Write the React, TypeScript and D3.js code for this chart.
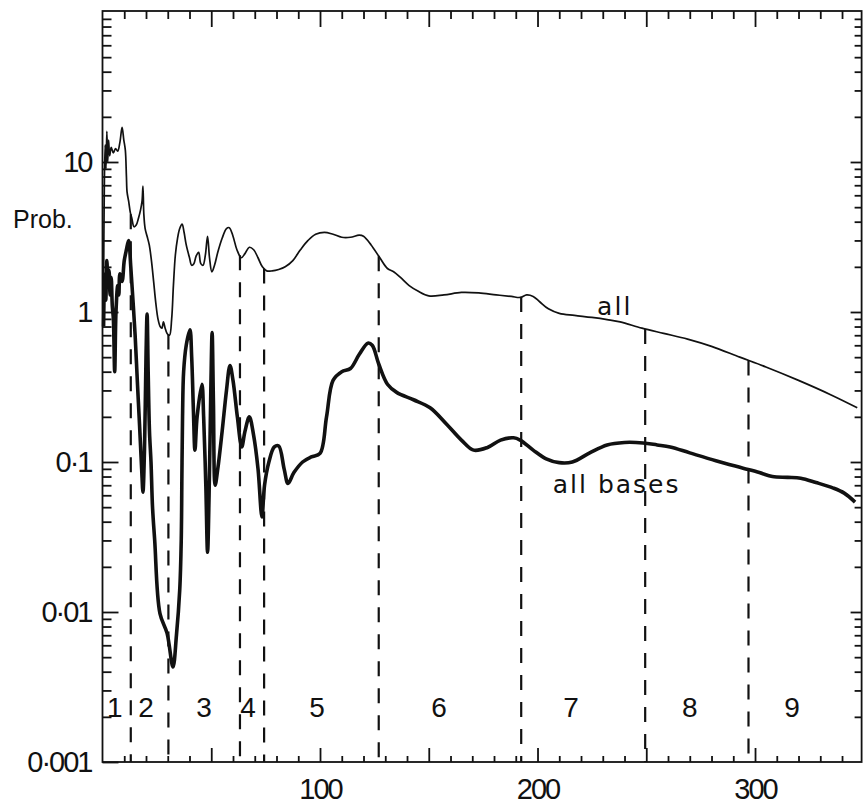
import React, { useEffect, useRef } from "react";
import * as d3 from "d3";

// "all" curve (thin)
const allPos = [
  0.5, 0.8, 1.2, 1.6, 2, 2.4, 2.8, 3.3, 4, 5, 6, 7, 8, 9, 9.8, 10.5, 11, 11.3, 12, 12.8,
  13.5, 14.5, 15.5, 16.5, 17.5, 18.2, 18.6, 19, 19.6, 20.5, 21.5, 22.5, 23.5, 24.5, 25.5,
  26.5, 27.3, 28, 28.8, 29.7, 30.8, 31.8, 32.6, 33.5, 34.5, 35.5, 36.6, 37.5, 38.5, 40, 41,
  42, 43, 44.2, 45.2, 46.2, 47.3, 48.3, 49.2, 50.3, 51.5, 53, 55, 57, 58.3, 60, 61.8, 63.8,
  65.5, 67.5, 69.5, 71.5, 73.5, 75.5, 78, 81, 84, 87.5, 91, 94.5, 98, 102, 106, 110, 114,
  118, 120, 123.5, 127.5, 131, 134, 137, 141, 145, 150, 157, 165, 173, 181, 188, 192, 195,
  198, 201, 205, 210, 217, 225, 232, 238, 248, 258, 269, 280, 293, 305, 320, 335, 347,
];
const allProb = [
  1.5, 6, 13, 9, 16, 10, 14, 11, 12.5, 11.5, 12.3, 11.8, 13.5, 17, 14, 12, 8, 6.3, 5.5, 4.6,
  4.2, 3.7, 3.8, 4.2, 4.8, 5.5, 6.9, 4.5, 3.6, 3.2, 2.8, 2.2, 1.6, 1.15, 0.9,
  0.8, 0.78, 0.86, 0.78, 0.72, 0.7, 0.9, 1.5, 2.4, 3.1, 3.6, 3.85, 3.4, 2.8, 2.3, 2.05,
  2.1, 2.35, 2.5, 2.1, 2.05, 2.4, 3.2, 2.3, 1.85, 2.05, 2.5, 3.1, 3.6, 3.65, 3.2, 2.6, 2.3,
  2.45, 2.7, 2.6, 2.3, 2.0, 1.88, 1.88, 1.92, 2.0, 2.2, 2.6, 3.0, 3.3, 3.4, 3.3, 3.15, 3.15,
  3.25, 3.2, 2.8, 2.3, 1.95, 1.85, 1.7, 1.5, 1.38, 1.28, 1.3, 1.35, 1.34, 1.3, 1.27, 1.25, 1.3,
  1.27, 1.17, 1.05, 0.98, 0.95, 0.92, 0.89, 0.86, 0.78, 0.72, 0.66, 0.59, 0.5, 0.43, 0.35, 0.28, 0.23,
];

// "all bases" curve (thick)
const basesPos = [
  0.5, 1, 1.5, 2, 2.5, 3, 3.5, 4, 4.5, 5, 5.6, 6.2, 7, 7.5, 8, 9, 10, 11, 12, 13, 14, 15, 16,
  17, 18, 18.6, 19.3, 20, 20.5, 21, 21.6, 22.3, 23, 24, 26.4, 29.7, 32.4, 34, 35.5, 36.2, 36.5,
  36.8, 37.3, 38.5, 40.2, 41, 41.8, 42.5, 43.5, 45.7, 46.5, 47.5, 48.3, 49, 49.8, 50.4, 51,
  51.8, 53, 55, 57, 58.6, 60, 62, 64, 65.5, 67.5, 69.5, 71.5, 73.3, 74.5, 76.5, 79, 81, 83.5,
  85.3, 88, 92, 96, 100, 103, 106, 110, 114, 118, 122, 124, 127, 131, 135.4, 143, 150.6, 158,
  165, 170.6, 177, 183, 189, 192, 198, 204, 210, 216, 224, 232, 240, 248.5, 255, 261, 270, 282,
  294.5, 302, 308, 315, 321, 328, 336, 341, 346,
];
const basesProb = [
  0.8, 1.8, 1.2, 2.2, 1.5, 1.9, 1.3, 1.7, 1.1, 0.9, 0.4, 1.0, 1.5, 1.3, 1.8, 1.6, 2.2, 2.6, 3.0, 2.0, 1.2, 0.7, 0.35,
  0.18, 0.09, 0.063, 0.12, 0.5, 0.97, 0.4, 0.16, 0.1, 0.05, 0.03, 0.0098, 0.0072, 0.0043, 0.007, 0.014, 0.03, 0.08,
  0.2, 0.4, 0.6, 0.76, 0.5, 0.22, 0.12, 0.2, 0.33, 0.2, 0.07, 0.025, 0.06, 0.3, 0.73, 0.25,
  0.07, 0.09, 0.16, 0.3, 0.44, 0.35, 0.2, 0.126, 0.16, 0.2, 0.15, 0.09, 0.043, 0.07, 0.1, 0.126, 0.128, 0.09,
  0.072, 0.085, 0.1, 0.108, 0.114, 0.2, 0.35, 0.4, 0.42, 0.52, 0.62, 0.6, 0.45, 0.33, 0.29, 0.26, 0.23, 0.18,
  0.14, 0.12, 0.125, 0.14, 0.145, 0.14, 0.12, 0.105, 0.099, 0.1, 0.115, 0.13, 0.135, 0.134, 0.13, 0.126, 0.115, 0.102,
  0.091, 0.085, 0.08, 0.079, 0.078, 0.073, 0.067, 0.062, 0.054,
];

// region boundaries (dashed) and their numbers
const boundaries = [13, 30.3, 63.2, 74.3, 127, 192.5, 249.5, 297];
const regionNames = ["1", "2", "3", "4", "5", "6", "7", "8", "9"];
const regionNamePos = [5.7, 20, 46.7, 66.9, 98.6, 154.7, 215.4, 270, 317];

const xLabelTicks = [100, 200, 300];
const yLabelTicks = [0.001, 0.01, 0.1, 1, 10];
const yLabelText = ["0·001", "0·01", "0·1", "1", "10"];

const seriesNames = ["all", "all bases"];
const seriesNamePos = [227.4, 207];
const seriesNameProb = [0.955, 0.062];

const W = 865, H = 804;
const left = 102.5, right = 861.6, top = 11, bottom = 762;
const FONT = "'Liberation Sans', Arial, sans-serif";

const App = () => {
  const axesRef = useRef<SVGGElement>(null);

  const x = d3.scaleLinear().domain([0, 349]).range([left, right]);
  const y = d3.scaleLog().domain([0.001, 100]).range([bottom, 12]);

  const line = d3.line<[number, number]>()
    .x(d => x(d[0]))
    .y(d => y(d[1]))
    .curve(d3.curveCatmullRom.alpha(0.5));

  const allPts = allPos.map((p, i) => [p, allProb[i]] as [number, number]);
  const basesPts = basesPos.map((p, i) => [p, basesProb[i]] as [number, number]);

  // value of the "all" curve at a position (log interpolation)
  const allAt = (p: number) => {
    const i = Math.max(1, Math.min(allPos.length - 1, d3.bisectLeft(allPos, p)));
    const t = (p - allPos[i - 1]) / (allPos[i] - allPos[i - 1]);
    return Math.exp(Math.log(allProb[i - 1]) * (1 - t) + Math.log(allProb[i]) * t);
  };

  useEffect(() => {
    const g = d3.select(axesRef.current);
    g.selectAll("*").remove();

    const xMinor = x.ticks(35).filter(v => v > 0 && v % 50 !== 0);
    const xMajor = x.ticks(35).filter(v => v > 0 && v % 50 === 0);
    const isDecade = (v: number) => Math.abs(Math.log10(v) - Math.round(Math.log10(v))) < 1e-6;
    const yMinor = y.ticks().filter(v => !isDecade(v));
    const yMajor = y.ticks().filter(v => isDecade(v) && v > 0.001 && v < 100);

    const style = (sel: any) => {
      sel.select(".domain").remove();
      sel.selectAll("line").attr("stroke", "#111").attr("stroke-width", 1.8);
      sel.selectAll("text")
        .attr("font-family", FONT)
        .attr("font-size", 29)
        .attr("letter-spacing", -2)
        .attr("fill", "#111");
    };
    const none = () => "";

    // bottom
    g.append("g").attr("transform", `translate(0,${bottom})`)
      .call(d3.axisBottom(x).tickValues(xMinor).tickSize(-6).tickFormat(none)).call(style);
    g.append("g").attr("transform", `translate(0,${bottom})`)
      .call(d3.axisBottom(x).tickValues(xMajor).tickSize(-14).tickPadding(16)
        .tickFormat(v => (xLabelTicks.includes(+v) ? String(v) : ""))).call(style);
    // top
    g.append("g").attr("transform", `translate(0,${top})`)
      .call(d3.axisTop(x).tickValues(xMinor).tickSize(-8).tickFormat(none)).call(style);
    g.append("g").attr("transform", `translate(0,${top})`)
      .call(d3.axisTop(x).tickValues(xMajor).tickSize(-16).tickFormat(none)).call(style);
    // left
    g.append("g").attr("transform", `translate(${left},0)`)
      .call(d3.axisLeft(y).tickValues(yMinor).tickSize(-9).tickFormat(none)).call(style);
    g.append("g").attr("transform", `translate(${left},0)`)
      .call(d3.axisLeft(y).tickValues([...yMajor, 0.001]).tickSize(-16).tickPadding(11)
        .tickFormat(v => {
          const k = yLabelTicks.findIndex(t => Math.abs(t - +v) < 1e-9);
          return k >= 0 ? yLabelText[k] : "";
        })).call(style);
    // right
    g.append("g").attr("transform", `translate(${right},0)`)
      .call(d3.axisRight(y).tickValues(yMinor).tickSize(-7).tickFormat(none)).call(style);
    g.append("g").attr("transform", `translate(${right},0)`)
      .call(d3.axisRight(y).tickValues(yMajor).tickSize(-11).tickFormat(none)).call(style);
  }, []);

  return (
    <svg width={W} height={H} style={{ position: "absolute", left: 0, top: 0, background: "#fff" }}>
      <rect x={left} y={top} width={right - left} height={bottom - top}
        fill="none" stroke="#111" strokeWidth={1.8} />

      {boundaries.map((b, i) => (
        <line key={i} x1={x(b)} x2={x(b)} y1={y(allAt(b))} y2={bottom}
          stroke="#111" strokeWidth={2.2} strokeDasharray="15 12" />
      ))}

      <path d={line(allPts) || ""} fill="none" stroke="#111" strokeWidth={1.7} strokeLinejoin="round" />
      <path d={line(basesPts) || ""} fill="none" stroke="#111" strokeWidth={3.6} strokeLinejoin="round" />

      <g ref={axesRef} />

      {regionNames.map((n, i) => (
        <text key={n} x={x(regionNamePos[i])} y={717} textAnchor="middle"
          fontFamily={FONT} fontSize={28} fill="#111">{n}</text>
      ))}

      {seriesNames.map((n, i) => (
        <text key={n} x={x(seriesNamePos[i])} y={y(seriesNameProb[i])}
          fontFamily="'DejaVu Sans', sans-serif" fontSize={25} letterSpacing={2} fill="#111">{n}</text>
      ))}

      <text x={13} y={228} fontFamily={FONT} fontSize={25} fill="#111">Prob.</text>
    </svg>
  );
};

export default App;
